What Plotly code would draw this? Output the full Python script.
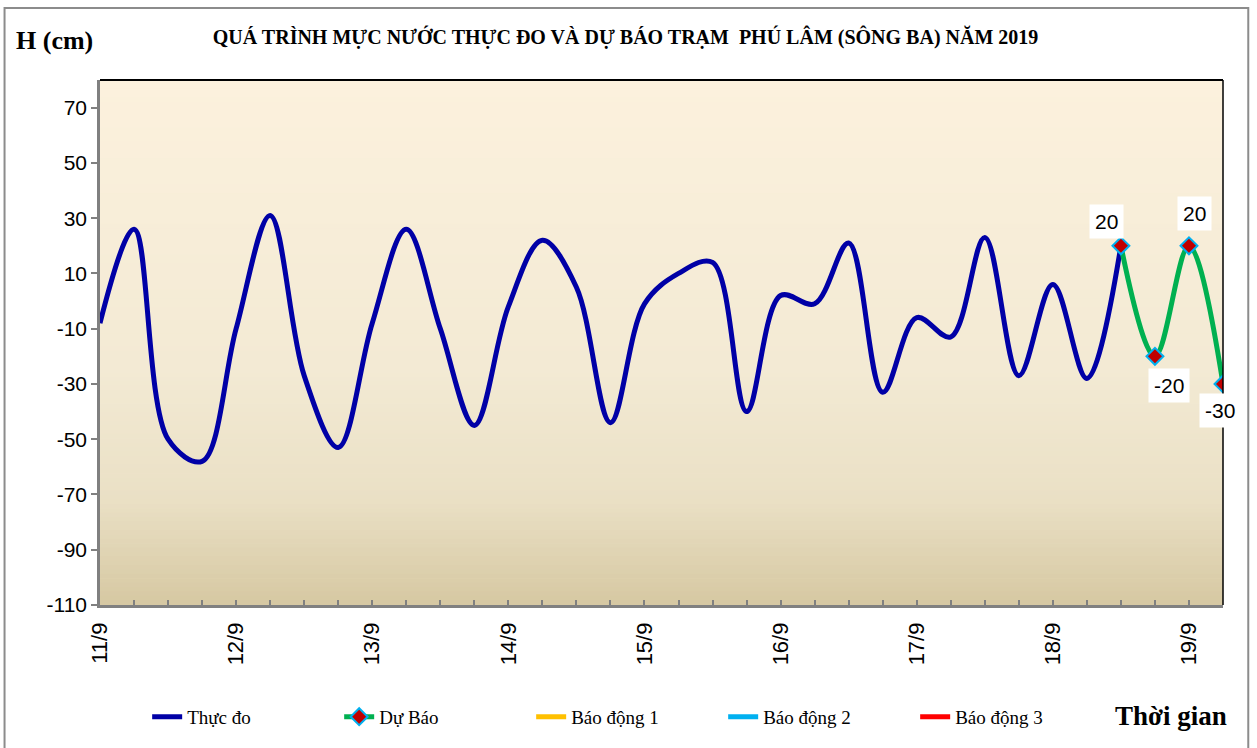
"""Quá trình mực nước thực đo và dự báo trạm Phú Lâm (sông Ba) năm 2019."""
import plotly.graph_objects as go

# Mốc thời gian 6 giờ một lần, 11/9 00h -> 19/9 06h
THOI_GIAN = [
    "2019-09-11 00:00", "2019-09-11 06:00", "2019-09-11 12:00", "2019-09-11 18:00",
    "2019-09-12 00:00", "2019-09-12 06:00", "2019-09-12 12:00", "2019-09-12 18:00",
    "2019-09-13 00:00", "2019-09-13 06:00", "2019-09-13 12:00", "2019-09-13 18:00",
    "2019-09-14 00:00", "2019-09-14 06:00", "2019-09-14 12:00", "2019-09-14 18:00",
    "2019-09-15 00:00", "2019-09-15 06:00", "2019-09-15 12:00", "2019-09-15 18:00",
    "2019-09-16 00:00", "2019-09-16 06:00", "2019-09-16 12:00", "2019-09-16 18:00",
    "2019-09-17 00:00", "2019-09-17 06:00", "2019-09-17 12:00", "2019-09-17 18:00",
    "2019-09-18 00:00", "2019-09-18 06:00", "2019-09-18 12:00", "2019-09-18 18:00",
    "2019-09-19 00:00", "2019-09-19 06:00",
]
THUC_DO = [
    -8, 26, -50, -58,
    -10, 31, -27, -53,
    -8, 26, -10, -45,
    -2, 22, 5, -44,
    -1, 10, 14, -40,
    2, -1, 21, -33,
    -6, -13, 23, -27,
    6, -28, 20,
]
DU_BAO = [20, -20, 20, -30]
DU_BAO_X = THOI_GIAN[30:34]

NGAY_TICK = ["2019-09-%02d" % d for d in range(11, 20)]
NGAY_LABEL = ["11/9", "12/9", "13/9", "14/9", "15/9", "16/9", "17/9", "18/9", "19/9"]
Y_TICKS = [-110, -90, -70, -50, -30, -10, 10, 30, 50, 70]
Y_LABEL = [str(v) for v in Y_TICKS]

SERIF = "Liberation Serif, Times New Roman, serif"
SANS = "Liberation Sans, Arial, sans-serif"
MAU = {"thuc_do": "#0000A6", "du_bao": "#00B050", "bd1": "#FFC000", "bd2": "#00B0F0", "bd3": "#FF0000"}


def _mau_nen(t):
    """Màu nền gradient: t=0 đỉnh, t=1 đáy."""
    stops = [(0.0, (252, 241, 221)), (0.55, (243, 234, 212)), (0.8, (234, 224, 197)), (1.0, (214, 200, 162))]
    for (t0, c0), (t1, c1) in zip(stops, stops[1:]):
        if t0 <= t <= t1:
            k = (t - t0) / (t1 - t0)
            return "rgb(%d,%d,%d)" % tuple(round(a + (b - a) * k) for a, b in zip(c0, c1))
    return "rgb(%d,%d,%d)" % stops[-1][1]


fig = go.Figure()
fig.add_trace(go.Scatter(
    x=THOI_GIAN[:len(THUC_DO)], y=THUC_DO, name="Thực đo", mode="lines",
    line=dict(color=MAU["thuc_do"], width=5, shape="spline", smoothing=1.0),
))
fig.add_trace(go.Scatter(
    x=DU_BAO_X, y=DU_BAO, name="Dự Báo", mode="lines+markers",
    line=dict(color=MAU["du_bao"], width=5, shape="spline", smoothing=1.0),
    marker=dict(symbol="diamond", size=13, color="#C00000", line=dict(color=MAU["bd2"], width=2)),
))
for ten, key in [("Báo động 1", "bd1"), ("Báo động 2", "bd2"), ("Báo động 3", "bd3")]:
    fig.add_trace(go.Scatter(x=[None], y=[None], name=ten, mode="lines", line=dict(color=MAU[key], width=5)))

# nhãn giá trị dự báo
for xv, yv, dx, dy in zip(DU_BAO_X, DU_BAO, [-14, 14, 6, -3], [24, -29, 32, -27]):
    fig.add_annotation(
        x=xv, y=yv, text=str(yv), showarrow=False, xshift=dx, yshift=dy,
        bgcolor="white", borderpad=5, font=dict(family=SANS, size=21, color="black"),
    )

shapes = []
n = 120
for i in range(n):
    shapes.append(dict(
        type="rect", xref="paper", yref="paper", x0=0, x1=1, y0=1 - (i + 1) / n, y1=1 - i / n + 0.001,
        fillcolor=_mau_nen((i + 0.5) / n), line=dict(width=0), layer="below",
    ))
# khung đen trên/phải của vùng vẽ
shapes.append(dict(type="line", xref="paper", yref="paper", x0=0, x1=1, y0=1, y1=1, line=dict(color="black", width=2)))
shapes.append(dict(type="line", xref="paper", yref="paper", x0=1, x1=1, y0=0, y1=1, line=dict(color="black", width=1.5)))
# viền ngoài
shapes.append(dict(type="rect", xref="paper", yref="paper", x0=-0.085, x1=1.0225, y0=-0.3, y1=1.137,
                   line=dict(color="#8C8C8C", width=2), fillcolor="rgba(0,0,0,0)"))

fig.add_annotation(xref="paper", yref="paper", x=-0.077, y=1.075, xanchor="left", yanchor="middle",
                   text="<b>H (cm)</b>", showarrow=False, font=dict(family=SERIF, size=26, color="black"))
fig.add_annotation(xref="paper", yref="paper", x=1.005, y=-0.212, xanchor="right", yanchor="middle",
                   text="<b>Thời gian</b>", showarrow=False, font=dict(family=SERIF, size=27, color="black"))

fig.update_layout(
    width=1257, height=748,
    margin=dict(l=100, r=34, t=80, b=143),
    paper_bgcolor="white", plot_bgcolor="#F3EAD4",
    title=dict(text="<b>QUÁ TRÌNH MỰC NƯỚC THỰC ĐO VÀ DỰ BÁO TRẠM  PHÚ LÂM (SÔNG BA) NĂM 2019</b>",
               x=0.468, xref="paper", xanchor="center", y=0.951, yanchor="middle",
               font=dict(family=SERIF, size=20, color="black")),
    showlegend=True,
    legend=dict(orientation="h", x=0.042, y=-0.213, xanchor="left", yanchor="middle",
                font=dict(family=SERIF, size=19, color="black"), entrywidth=147,
                bgcolor="rgba(0,0,0,0)", itemclick=False),
    shapes=shapes,
)
fig.update_xaxes(
    type="date", range=[THOI_GIAN[0], THOI_GIAN[-1]],
    tickvals=NGAY_TICK, ticktext=NGAY_LABEL, tickangle=-90,
    tickfont=dict(family=SANS, size=22, color="black"), ticklabelstandoff=6,
    ticks="inside", ticklen=5, tickcolor="#808080", tickwidth=1.5,
    minor=dict(dtick=6 * 3600 * 1000, ticks="inside", ticklen=5, tickcolor="#808080", tickwidth=1.5, showgrid=False),
    showline=True, linecolor="#808080", linewidth=2.5, showgrid=False, zeroline=False,
)
fig.update_yaxes(
    range=[-110, 80], tickvals=Y_TICKS, ticktext=Y_LABEL,
    tickfont=dict(family=SANS, size=21, color="black"),
    ticks="outside", ticklen=6, tickcolor="#808080", tickwidth=1.5,
    showline=True, linecolor="#808080", linewidth=2.5, showgrid=False, zeroline=False,
)

fig.write_html("out.html", config={"displayModeBar": False},
               post_script="document.body.style.margin='0';")
